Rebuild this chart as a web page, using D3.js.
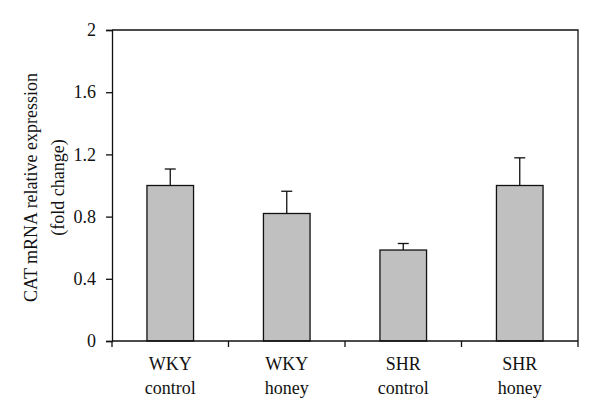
<!DOCTYPE html>
<html>
<head>
<meta charset="utf-8">
<script src="https://cdn.jsdelivr.net/npm/d3@7"></script>
<style>
  body { margin: 0; background: #fff; }
  text { font-family: 'Liberation Serif', 'DejaVu Serif', serif; fill: #111; }
</style>
</head>
<body>
<div id="chart"></div>
<script>
const groups = [['WKY', 'control'], ['WKY', 'honey'], ['SHR', 'control'], ['SHR', 'honey']];
const means = [1.0, 0.82, 0.585, 1.0];
const errors = [0.106, 0.143, 0.042, 0.178];
const yTicks = [0, 0.4, 0.8, 1.2, 1.6, 2];

const width = 600, height = 418;
const margin = { top: 30, right: 22, bottom: 77, left: 112 };
const innerW = width - margin.left - margin.right,
  innerH = height - margin.top - margin.bottom;
const fontSize = 18;

const svg = d3.select('#chart').append('svg')
  .attr('width', width)
  .attr('height', height);
const g = svg.append('g')
  .attr('transform', `translate(${margin.left},${margin.top})`);

const x = d3.scaleBand()
  .domain(d3.range(groups.length))
  .range([0, innerW])
  .paddingInner(0.6)
  .paddingOuter(0.3);
const step = innerW / groups.length;
const y = d3.scaleLinear().domain([0, 2]).range([innerH, 0]);

// frame (top + right)
g.append('path')
  .attr('d', `M0,0H${innerW}V${innerH}`)
  .attr('fill', 'none')
  .attr('stroke', '#111')
  .attr('stroke-width', 1.3);

// bars
g.selectAll('rect.bar').data(means).enter()
  .append('rect')
  .attr('class', 'bar')
  .attr('x', (d, i) => x(i))
  .attr('y', d => y(d))
  .attr('width', x.bandwidth())
  .attr('height', d => innerH - y(d))
  .attr('fill', '#c0c0c0')
  .attr('stroke', '#111')
  .attr('stroke-width', 1.3);

// error bars (upper only)
const err = g.selectAll('g.err').data(means).enter()
  .append('g')
  .attr('class', 'err')
  .attr('stroke', '#111')
  .attr('stroke-width', 1.3);
err.append('line')
  .attr('x1', (d, i) => x(i) + x.bandwidth() / 2)
  .attr('x2', (d, i) => x(i) + x.bandwidth() / 2)
  .attr('y1', d => y(d))
  .attr('y2', (d, i) => y(d + errors[i]));
err.append('line')
  .attr('x1', (d, i) => x(i) + x.bandwidth() / 2 - 5.5)
  .attr('x2', (d, i) => x(i) + x.bandwidth() / 2 + 5.5)
  .attr('y1', (d, i) => y(d + errors[i]))
  .attr('y2', (d, i) => y(d + errors[i]));

// y axis
const yAxis = g.append('g')
  .call(d3.axisLeft(y).tickValues(yTicks).tickFormat(d3.format('')).tickSize(6).tickPadding(10));
yAxis.select('.domain').attr('stroke', '#111').attr('stroke-width', 1.3);
yAxis.selectAll('.tick line').attr('stroke', '#111').attr('stroke-width', 1.3);
yAxis.selectAll('.tick text')
  .style('font-family', "'Liberation Serif', 'DejaVu Serif', serif")
  .style('font-size', fontSize + 'px')
  .attr('fill', '#111');

// x axis: ticks at category boundaries
const xAxis = g.append('g').attr('transform', `translate(0,${innerH})`);
xAxis.append('line')
  .attr('x1', 0).attr('x2', innerW)
  .attr('stroke', '#111').attr('stroke-width', 1.3);
xAxis.selectAll('line.tick').data(d3.range(groups.length + 1)).enter()
  .append('line')
  .attr('class', 'tick')
  .attr('x1', d => d * step).attr('x2', d => d * step)
  .attr('y1', 0).attr('y2', 6)
  .attr('stroke', '#111').attr('stroke-width', 1.3);
const labels = xAxis.selectAll('text.cat').data(groups).enter()
  .append('text')
  .attr('class', 'cat')
  .attr('text-anchor', 'middle')
  .style('font-size', fontSize + 'px')
  .attr('x', (d, i) => x(i) + x.bandwidth() / 2);
labels.append('tspan')
  .attr('x', (d, i) => x(i) + x.bandwidth() / 2)
  .attr('y', 29)
  .text(d => d[0]);
labels.append('tspan')
  .attr('x', (d, i) => x(i) + x.bandwidth() / 2)
  .attr('y', 53)
  .text(d => d[1]);

// y title
const title = svg.append('text')
  .attr('text-anchor', 'middle')
  .style('font-size', fontSize + 'px')
  .attr('transform', `translate(0,${margin.top + innerH / 2 + 2}) rotate(-90)`);
title.append('tspan').attr('x', 0).attr('y', 37).text('CAT mRNA relative expression');
title.append('tspan').attr('x', 0).attr('y', 64).text('(fold change)');
</script>
</body>
</html>
